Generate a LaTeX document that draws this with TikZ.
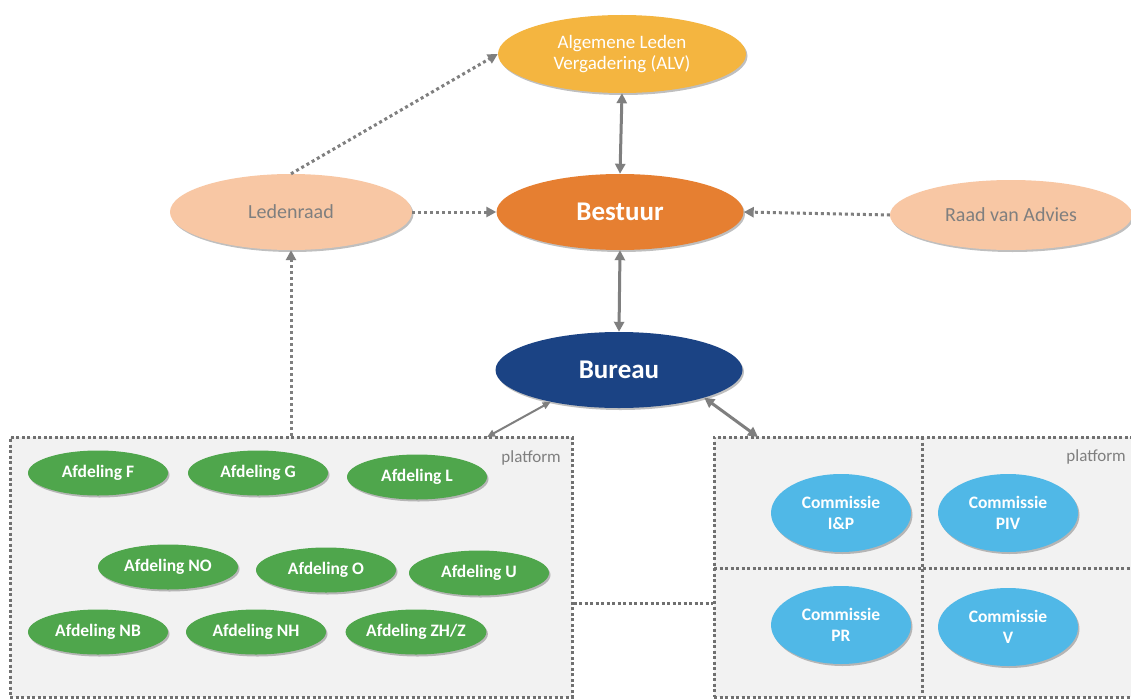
\documentclass[tikz,border=0pt]{standalone}
\usepackage{fontspec}
\setmainfont{Carlito}
\usetikzlibrary{arrows.meta,shapes.geometric,shadows}
\definecolor{alvc}{HTML}{F4B540}
\definecolor{besc}{HTML}{E67F31}
\definecolor{peach}{HTML}{F8C7A4}
\definecolor{burc}{HTML}{1B4384}
\definecolor{grn}{HTML}{4FA64C}
\definecolor{blu}{HTML}{50B8E7}
\definecolor{lgray}{HTML}{7F7F7F}
\definecolor{dgray}{HTML}{707070}
\definecolor{platc}{HTML}{F2F2F2}
\begin{document}
\begin{tikzpicture}[x=1pt,y=-1pt,
  oval/.style={ellipse, inner sep=0pt, align=center,
    drop shadow={shadow xshift=1.5pt, shadow yshift=-2pt, opacity=0.25, fill=black}},
  top/.style={oval, fill=alvc, text=white, font=\fontsize{19}{21}\selectfont},
  big/.style={oval, font=\bfseries\fontsize{27}{30}\selectfont, text=white, minimum width=247pt, minimum height=76pt},
  side/.style={oval, fill=peach, text=lgray, font=\fontsize{20}{22}\selectfont, minimum width=242pt},
  afd/.style={oval, fill=grn, text=white, font=\bfseries\fontsize{17.5}{19}\selectfont, minimum width=140pt, minimum height=45pt},
  com/.style={oval, fill=blu, text=white, font=\bfseries\fontsize{17.5}{21}\selectfont, minimum width=140pt, minimum height=78pt},
  platbox/.style={draw=dgray, fill=platc, line width=3pt, dash pattern=on 3pt off 2.5pt, inner sep=0pt},
  platlbl/.style={text=lgray, font=\fontsize{17}{19}\selectfont, inner sep=0pt},
  both/.style={draw=lgray, line width=3pt, {Triangle[length=10pt,width=10pt]}-{Triangle[length=10pt,width=10pt]}},
  dots/.style={draw=lgray, line width=3pt, dash pattern=on 3pt off 3pt, -{Triangle[length=10pt,width=10pt]}},
  dotline/.style={draw=dgray, line width=3pt, dash pattern=on 3pt off 2.5pt},
]
\useasboundingbox (0,0) rectangle (1131,698);
\fill[white] (0,0) rectangle (1131,698);

% platforms
\node[platbox, minimum width=562pt, minimum height=260pt] (lp) at (291,567) {};
\node[platbox, minimum width=426pt, minimum height=260pt] (rp) at (927,567) {};
\draw[dotline] (922,437) -- (922,697);
\draw[dotline] (714,568) -- (1131,568);
\node[platlbl, anchor=north east] (lpl) at (561,450) {platform};
\node[platlbl, anchor=north east] (rpl) at (1126,449) {platform};

% top nodes
\node[top, minimum width=248pt, minimum height=78pt] (alv) at (622,54) {Algemene Leden\\Vergadering (ALV)};
\node[big, fill=besc] (bes) at (620,212) {Bestuur};
\node[big, fill=burc] (bur) at (619,370) {Bureau};
\node[side, minimum height=76pt] (led) at (291,212) {Ledenraad};
\node[side, minimum height=70pt] (raad) at (1011,215) {Raad van Advies};

% afdelingen
\node[afd] (f) at (98,473) {Afdeling F};
\node[afd] (g) at (258,473) {Afdeling G};
\node[afd] (l) at (417,477) {Afdeling L};
\node[afd] (no) at (168,567) {Afdeling NO};
\node[afd] (o) at (326,570) {Afdeling O};
\node[afd] (u) at (479,573) {Afdeling U};
\node[afd] (nb) at (98,632) {Afdeling NB};
\node[afd] (nh) at (256,632) {Afdeling NH};
\node[afd] (zh) at (416,632) {Afdeling ZH/Z};

% commissies
\node[com] (ip) at (841,513) {Commissie\\I\&P};
\node[com] (piv) at (1008,513) {Commissie\\PIV};
\node[com] (pr) at (841,625) {Commissie\\PR};
\node[com] (v) at (1008,627) {Commissie\\V};

% connectors
\draw[both] (alv.south) -- (bes.north);
\draw[both] (bes.south) -- (bur.north);
\draw[dots] (led.north) -- (alv.west);
\draw[dots] (led.east) -- (bes.west);
\draw[dots] (raad.west) -- (bes.east);
\draw[dots] (led.south |- lp.north) -- (led.south);
\coordinate (lpa) at (487,437);
\coordinate (rpa) at (758,437);
\draw[draw=lgray, line width=2pt, {Triangle[length=8pt,width=7pt]}-{Triangle[length=8pt,width=7pt]}] (bur.205) -- (lpa);
\draw[both] (bur.342) -- (rpa);
\draw[dotline] ([yshift=-36pt]lp.east) -- ([yshift=-36pt]rp.west);
\end{tikzpicture}
\end{document}
